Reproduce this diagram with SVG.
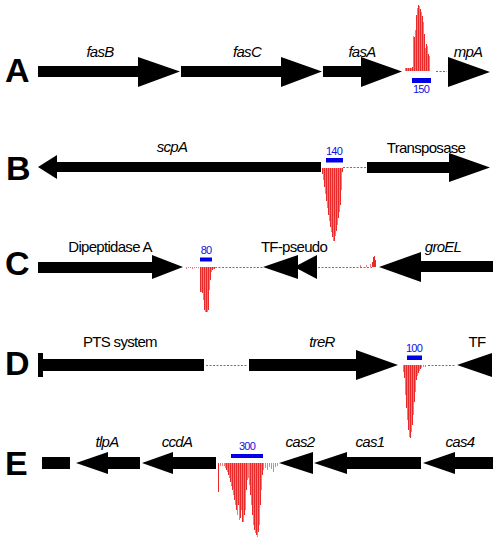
<svg xmlns="http://www.w3.org/2000/svg" width="498" height="543" viewBox="0 0 498 543">
<style>
.gene{fill:#000}
.lbl{font-family:"Liberation Sans",Arial,sans-serif;font-size:15px;letter-spacing:-0.7px;text-anchor:middle;fill:#000}
.it{font-style:italic}
.big{font-family:"Liberation Sans",Arial,sans-serif;font-size:34px;font-weight:bold;fill:#000}
.num{font-family:"Liberation Sans",Arial,sans-serif;font-size:11px;letter-spacing:-0.8px;text-anchor:middle;fill:#1010e0}
.bar{fill:#0000e6}
.pk1{stroke:#e82a2a;stroke-width:1;fill:none}
.pk2{stroke:#f47a7a;stroke-width:1;fill:none}
.dot{stroke:#e84040;stroke-width:1;stroke-dasharray:2 1.5;fill:none}
</style>
<rect width="498" height="543" fill="#fff"/>

<!-- Row letters -->
<text class="big" x="5" y="82">A</text>
<text class="big" x="6" y="180">B</text>
<text class="big" x="5" y="275">C</text>
<text class="big" x="5" y="375">D</text>
<text class="big" x="5" y="475">E</text>

<g id="connectors">
  <line class="dot" x1="436" y1="71.5" x2="447" y2="71.5"/>
  <line class="dot" x1="343" y1="167.5" x2="366" y2="167.5"/>
  <line class="dot" x1="215" y1="267.5" x2="263" y2="267.5"/>
  <line class="dot" x1="318" y1="267.5" x2="372" y2="267.5"/>
  <line class="dot" x1="206" y1="365.5" x2="248" y2="365.5"/>
  <line class="dot" x1="428" y1="365.5" x2="456" y2="365.5"/>
</g>

<!-- Row A -->
<g id="fasB"><polygon class="gene" points="38,66 138,66 138,57 180,71.5 138,87 138,77 38,77"/><text class="lbl it" x="100" y="57">fasB</text></g>
<g id="fasC"><polygon class="gene" points="181,66 281,66 281,57 322,71.5 281,87 281,77 181,77"/><text class="lbl it" x="247" y="57">fasC</text></g>
<g id="fasA"><polygon class="gene" points="323,66 361,66 361,57 402,71.5 361,87 361,77 323,77"/><text class="lbl it" x="362" y="57">fasA</text></g>
<g id="mpA"><polygon class="gene" points="448,57 490,72 448,87"/><text class="lbl it" x="468" y="57">mpA</text></g>
<g id="peakA">
  <path class="pk2" d="M405.5 71V68M407.5 71V68M409.5 71V68M411.5 71V68M413.5 71V36M415.5 71V30M417.5 71V8M419.5 71V6M421.5 71V12M423.5 71V22M425.5 71V48M427.5 71V46M429.5 71V56"/>
  <path class="pk1" d="M406.5 71V68M408.5 71V68M410.5 71V68M412.5 71V67M414.5 71V37M416.5 71V15M418.5 71V5M420.5 71V9M422.5 71V16M424.5 71V34M426.5 71V44M428.5 71V54"/>
  <rect class="bar" x="412" y="78" width="19" height="5"/>
  <text class="num" x="421" y="93">150</text>
</g>

<!-- Row B -->
<g id="scpA"><polygon class="gene" points="38,167 57,155 57,162 321,162 321,172 57,172 57,179"/><text class="lbl it" x="172" y="152">scpA</text></g>
<g id="Transposase"><polygon class="gene" points="367,162 449,162 449,153 490,167.5 449,182 449,173 367,173"/><text class="lbl" x="426" y="153">Transposase</text></g>
<g id="peakB">
  <path class="pk1" d="M322.5 168V174M324.5 168V187M326.5 168V201M328.5 168V215M330.5 168V227M332.5 168V237M334.5 168V241M336.5 168V231M338.5 168V218M340.5 168V205M342.5 168V172"/>
  <path class="pk2" d="M323.5 168V180M325.5 168V194M327.5 168V208M329.5 168V221M331.5 168V232M333.5 168V241M335.5 168V236M337.5 168V225M339.5 168V212M341.5 168V190"/>
  <rect class="bar" x="326" y="158" width="17" height="4.5"/>
  <text class="num" x="334" y="155">140</text>
</g>

<!-- Row C -->
<g id="DipeptidaseA"><polygon class="gene" points="38,262 152,262 152,255 183,267 152,279 152,273 38,273"/><text class="lbl" x="110" y="252">Dipeptidase A</text></g>
<g id="TF-pseudo"><polygon class="gene" points="263,267 298,255 298,265 317,255 317,279 298,269 298,279"/><text class="lbl" x="294" y="252">TF-pseudo</text></g>
<g id="groEL"><polygon class="gene" points="379,267 421,252 421,261 493,261 493,272 421,272 421,282"/><text class="lbl it" x="443" y="252">groEL</text></g>
<g id="peakC">
  <path class="pk2" d="M186.5 267V269M188.5 267V268M190.5 267V268M192.5 267V269M194.5 267V268M196.5 267V268M198.5 267V268M201.5 267V292M203.5 267V300M205.5 267V312M207.5 267V312M209.5 267V290M211.5 267V272M213.5 267V269M215.5 267V268"/>
  <path class="pk1" d="M200.5 267V292M202.5 267V293M204.5 267V310M206.5 267V312M208.5 267V310M210.5 267V280M212.5 267V270M214.5 267V269M372.5 267V262M373.5 267V257M374.5 267V256M375.5 267V260"/>
  <path class="pk2" d="M360.5 267V265M366.5 267V265M370.5 267V264"/>
  <rect class="bar" x="200" y="257.5" width="12" height="4"/>
  <text class="num" x="206" y="254">80</text>
</g>

<!-- Row D -->
<g id="PTSsystem"><rect class="gene" x="38" y="353" width="5" height="24"/><rect class="gene" x="38" y="359" width="166" height="12"/><text class="lbl" x="120" y="347">PTS system</text></g>
<g id="treR"><polygon class="gene" points="249,359 356,359 356,350 398,365 356,380 356,371 249,371"/><text class="lbl it" x="322" y="347">treR</text></g>
<g id="TF"><polygon class="gene" points="457,365 492,353 492,377"/><text class="lbl" x="477" y="347">TF</text></g>
<g id="peakD">
  <path class="pk1" d="M404.5 365V378M406.5 365V408M408.5 365V430M410.5 365V438M412.5 365V425M414.5 365V402M416.5 365V380M418.5 365V373M420.5 365V369"/>
  <path class="pk2" d="M403.5 365V372M405.5 365V395M407.5 365V420M409.5 365V437M411.5 365V432M413.5 365V415M415.5 365V392M417.5 365V376M419.5 365V371M421.5 365V368M423.5 365V367M425.5 365V367"/>
  <rect class="bar" x="407" y="355.5" width="15" height="4.5"/>
  <text class="num" x="414" y="352">100</text>
</g>

<!-- Row E -->
<g id="gene-E0"><rect class="gene" x="42" y="457" width="28" height="12"/></g>
<g id="tlpA"><polygon class="gene" points="76,463 108,452 108,457 140,457 140,469 108,469 108,474"/><text class="lbl it" x="107" y="447">tlpA</text></g>
<g id="ccdA"><polygon class="gene" points="142,463 173,452 173,457 216,457 216,469 173,469 173,474"/><text class="lbl it" x="177" y="447">ccdA</text></g>
<g id="cas2"><polygon class="gene" points="279,463 313,452 313,474"/><text class="lbl it" x="300" y="447">cas2</text></g>
<g id="cas1"><polygon class="gene" points="314,463 347,452 347,457 421,457 421,469 347,469 347,474"/><text class="lbl it" x="370" y="447">cas1</text></g>
<g id="cas4"><polygon class="gene" points="423,463 455,452 455,457 493,457 493,469 455,469 455,474"/><text class="lbl it" x="460" y="447">cas4</text></g>
<g id="peakE">
  <path class="pk1" d="M218.5 463V492M226.5 463V470M228.5 463V475M230.5 463V482M232.5 463V490M234.5 463V500M236.5 463V510M238.5 463V505M240.5 463V518M242.5 463V522M244.5 463V515M246.5 463V490M250.5 463V495M252.5 463V515M254.5 463V530M256.5 463V535M258.5 463V532M260.5 463V505M262.5 463V475"/>
  <path class="pk2" d="M220.5 463V466M222.5 463V466M224.5 463V466M225.5 463V468M227.5 463V472M229.5 463V478M231.5 463V486M233.5 463V495M235.5 463V505M237.5 463V515M239.5 463V520M241.5 463V510M243.5 463V522M245.5 463V510M247.5 463V480M248.5 463V478M249.5 463V485M251.5 463V505M253.5 463V525M255.5 463V533M257.5 463V537M259.5 463V525M261.5 463V490M263.5 463V470M265.5 463V468M267.5 463V470M269.5 463V467M271.5 463V469M273.5 463V472M275.5 463V467M277.5 463V466"/>
  <rect class="bar" x="231" y="454" width="32" height="4"/>
  <text class="num" x="247" y="450">300</text>
</g>
</svg>
